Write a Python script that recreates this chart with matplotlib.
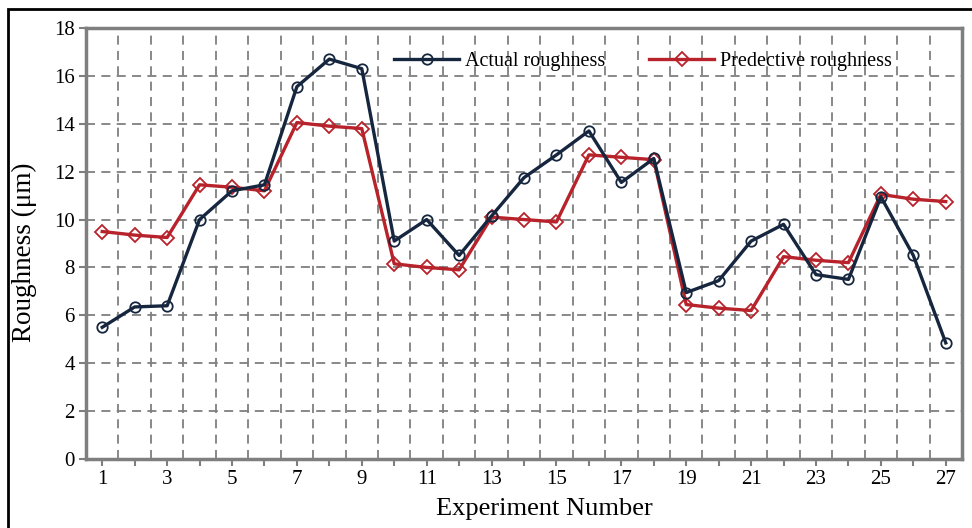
"""Actual vs predictive roughness per experiment."""

import matplotlib
matplotlib.use("Agg")
import matplotlib.pyplot as plt          # noqa: E402
from matplotlib.patches import Rectangle  # noqa: E402


experiments = list(range(1, 28))
actual = [5.5, 6.35, 6.4, 10.0, 11.2, 11.45, 15.55, 16.7, 16.3,
          9.1, 10.0, 8.5, 10.15, 11.75, 12.7, 13.7, 11.55, 12.55,
          6.95, 7.45, 9.1, 9.8, 7.7, 7.5, 10.95, 8.5, 4.85]
predictive = [9.5, 9.35, 9.25, 11.45, 11.35, 11.2, 14.05, 13.9, 13.8,
              8.15, 8.0, 7.9, 10.1, 10.0, 9.9, 12.7, 12.6, 12.5,
              6.45, 6.3, 6.2, 8.45, 8.3, 8.2, 11.05, 10.85, 10.75]
x_labels = [str(n) if n % 2 else "" for n in experiments]

NAVY = "#16263f"
RED = "#b8222a"
GREY = "#7f7f7f"

plt.rcParams["font.family"] = ["Liberation Serif", "DejaVu Serif"]

fig = plt.figure(figsize=(9.72, 5.28), dpi=100)
ax = fig.add_axes([0.0885, 0.1307, 0.9012, 0.8163])

# outer frame (left and top edges visible in the original)
fig.patches.append(Rectangle((8 / 972, -0.1), 1.2, 1.1 - 9 / 528,
                             transform=fig.transFigure, fill=False,
                             edgecolor="black", linewidth=2.0))

ax.plot(experiments, actual, color=NAVY, linewidth=2.4, marker="o",
        markersize=7.5, markerfacecolor="none", markeredgewidth=1.3,
        label="Actual roughness", zorder=4)
ax.plot(experiments, predictive, color=RED, linewidth=2.4, marker="D",
        markersize=7, markerfacecolor="none", markeredgewidth=1.3,
        label="Predective roughness", zorder=3)

ax.set_xlim(0.5, 27.5)
ax.set_ylim(0, 18)
ax.set_yticks(range(0, 19, 2))
ax.set_xticks(experiments)
ax.set_xticklabels(x_labels)

# grid: horizontal at the y ticks, vertical between categories
for yv in range(2, 18, 2):
    ax.axhline(yv, color=GREY, linewidth=1.3, linestyle=(0, (5, 3.5)),
               zorder=1)
for n in experiments[:-1]:
    ax.axvline(n + 0.5, color=GREY, linewidth=1.3,
               linestyle=(0, (5, 3.5)), zorder=1)

for sp in ax.spines.values():
    sp.set_color(GREY)
    sp.set_linewidth(2.5)
ax.tick_params(axis="both", direction="out", color=GREY, width=1.5,
               length=5, labelsize=15, pad=3)

ax.set_ylabel("Roughness (\u03bcm)", fontsize=19.5)
ax.yaxis.set_label_coords(-0.056, 0.48)
ax.set_xlabel("Experiment Number", fontsize=19)
ax.xaxis.set_label_coords(0.523, -0.09)

ax.legend(loc="center left", bbox_to_anchor=(0.352, 0.923), ncol=2,
          frameon=False, fontsize=14.5, handlelength=3.2, handletextpad=0.3,
          columnspacing=2.2, borderpad=0, borderaxespad=0)

fig.savefig("out.png", dpi=100)
